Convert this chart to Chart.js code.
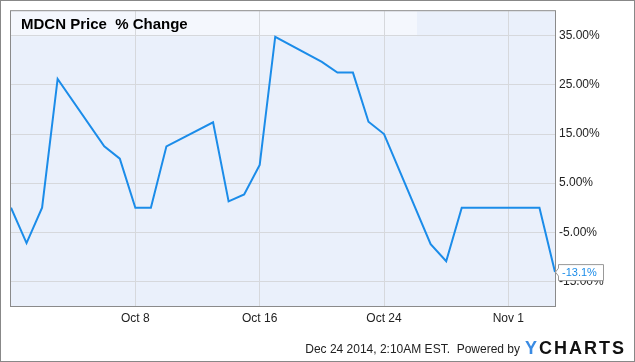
<!DOCTYPE html>
<html>
<head>
<meta charset="utf-8">
<script src="https://cdn.jsdelivr.net/npm/chart.js@4"></script>
<style>
  html, body { margin: 0; padding: 0; background: #fff; }
  #wrap { position: relative; width: 635px; height: 362px; }
</style>
</head>
<body>
<div id="wrap"><canvas id="myChart" width="635" height="362"></canvas></div>
<script>
// MDCN price % change, trading days only
var dates = ['2014-09-30', '2014-10-01', '2014-10-02', '2014-10-03', '2014-10-06', '2014-10-07',
             '2014-10-08', '2014-10-09', '2014-10-10', '2014-10-13', '2014-10-14', '2014-10-15',
             '2014-10-16', '2014-10-17', '2014-10-20', '2014-10-21', '2014-10-22', '2014-10-23',
             '2014-10-24', '2014-10-27', '2014-10-28', '2014-10-29', '2014-10-30', '2014-10-31',
             '2014-11-03', '2014-11-04'];
var pctChange = [0, -7.2, 0, 26.2, 12.5, 10.0,
                 0, 0, 12.5, 17.4, 1.3, 2.7,
                 8.7, 34.8, 29.7, 27.5, 27.5, 17.5,
                 15.0, -7.4, -10.9, 0, 0, 0,
                 0, -13.1];
var xTickDates = ['2014-10-08', '2014-10-16', '2014-10-24', '2014-11-01'];
var xTickLabels = ['Oct 8', 'Oct 16', 'Oct 24', 'Nov 1'];
var yTicks = [-15, -5, 5, 15, 25, 35];
var chartTitle = 'MDCN Price  % Change';
var footerText = 'Dec 24 2014, 2:10AM EST.  Powered by';

var startDate = new Date('2014-09-30T00:00:00Z');
function dayOffset(s) {
    return Math.round((new Date(s + 'T00:00:00Z') - startDate) / 86400000);
}

var points = dates.map(function(d, i) {
    return { x: dayOffset(d), y: pctChange[i] };
});
var xTickPos = xTickDates.map(dayOffset);

var lineColor = '#1b8ce9';
var fontFam = '"Liberation Sans", Arial, sans-serif';

// backgrounds, title, last value flag, footer
var decorPlugin = {
    id: 'decor',
    beforeDraw: function(chart) {
        var c = chart.ctx, a = chart.chartArea;
        c.save();
        c.fillStyle = '#fff';
        c.fillRect(0, 0, chart.width, chart.height);
        c.fillStyle = '#eaf0fb';
        c.fillRect(a.left, a.top, a.right - a.left, a.bottom - a.top);
        // title strip
        c.fillStyle = '#f4f7fd';
        c.fillRect(a.left, a.top, 406, 25);
        c.restore();
    },
    beforeDatasetsDraw: function(chart) {
        var c = chart.ctx, a = chart.chartArea;
        c.save();
        c.fillStyle = '#000';
        c.font = 'bold 15px ' + fontFam;
        c.textBaseline = 'middle';
        c.fillText(chartTitle, a.left + 10, a.top + 14);
        c.restore();
    },
    afterDraw: function(chart) {
        var c = chart.ctx, a = chart.chartArea;
        var xs = chart.scales.x, ys = chart.scales.y;
        c.save();
        // plot border
        c.strokeStyle = '#8a8a8a';
        c.lineWidth = 1;
        c.strokeRect(a.left - 0.5, a.top - 0.5, a.right - a.left + 1, a.bottom - a.top + 1);

        // last value flag
        var last = points[points.length - 1];
        var px = xs.getPixelForValue(last.x), py = ys.getPixelForValue(last.y);
        var bx = px + 3, bw = 45, bh = 16;
        c.fillStyle = '#fff';
        c.strokeStyle = '#999';
        c.beginPath();
        c.moveTo(px + 0.5, py);
        c.lineTo(bx + 0.5, py - 4);
        c.lineTo(bx + 0.5, py - bh / 2 + 0.5);
        c.lineTo(bx + bw + 0.5, py - bh / 2 + 0.5);
        c.lineTo(bx + bw + 0.5, py + bh / 2 + 0.5);
        c.lineTo(bx + 0.5, py + bh / 2 + 0.5);
        c.lineTo(bx + 0.5, py + 4);
        c.closePath();
        c.fill();
        c.stroke();
        c.fillStyle = lineColor;
        c.font = '11px ' + fontFam;
        c.textBaseline = 'middle';
        c.fillText(last.y.toFixed(1) + '%', bx + 4, py + 1);

        // footer
        c.fillStyle = '#222';
        c.font = '12px ' + fontFam;
        c.textAlign = 'right';
        c.fillText(footerText, 520, 350);
        c.textAlign = 'left';
        c.font = 'bold 18px ' + fontFam;
        c.letterSpacing = '2px';
        c.fillStyle = '#3a8be3';
        c.fillText('Y', 525, 349);
        var yw = c.measureText('Y').width;
        c.fillStyle = '#111';
        c.fillText('CHARTS', 525 + yw, 349);
        c.letterSpacing = '0px';

        // outer frame
        c.strokeStyle = '#888';
        c.strokeRect(0.5, 0.5, chart.width - 1, chart.height - 1);
        c.restore();
    }
};

var ctx = document.getElementById('myChart').getContext('2d');
var myChart = new Chart(ctx, {
    type: 'line',
    data: {
        datasets: [{
            label: 'MDCN',
            data: points,
            borderColor: lineColor,
            borderWidth: 2,
            pointRadius: 0,
            tension: 0,
            fill: false
        }]
    },
    options: {
        responsive: false,
        animation: false,
        layout: { padding: { left: 11, top: 10, right: 0, bottom: 0 } },
        plugins: {
            legend: { display: false },
            tooltip: { enabled: false }
        },
        scales: {
            x: {
                type: 'linear',
                min: 0,
                max: 35,
                afterBuildTicks: function(scale) {
                    scale.ticks = xTickPos.map(function(v) { return { value: v }; });
                },
                afterFit: function(scale) { scale.height = 56; },
                grid: { color: '#d6d8dc', drawTicks: false },
                border: { display: false },
                ticks: {
                    padding: 5,
                    maxRotation: 0,
                    autoSkip: false,
                    color: '#222',
                    font: { family: fontFam, size: 12 },
                    callback: function(v) {
                        var i = xTickPos.indexOf(v);
                        return i >= 0 ? xTickLabels[i] : '';
                    }
                }
            },
            y: {
                position: 'right',
                min: -20,
                max: 40,
                afterBuildTicks: function(scale) {
                    scale.ticks = yTicks.map(function(v) { return { value: v }; });
                },
                afterFit: function(scale) { scale.width = 80; },
                grid: { color: '#d6d8dc', drawTicks: false },
                border: { display: false },
                ticks: {
                    padding: 4,
                    color: '#222',
                    font: { family: fontFam, size: 12 },
                    callback: function(v) { return v.toFixed(2) + '%'; }
                }
            }
        }
    },
    plugins: [decorPlugin]
});
</script>
</body>
</html>
